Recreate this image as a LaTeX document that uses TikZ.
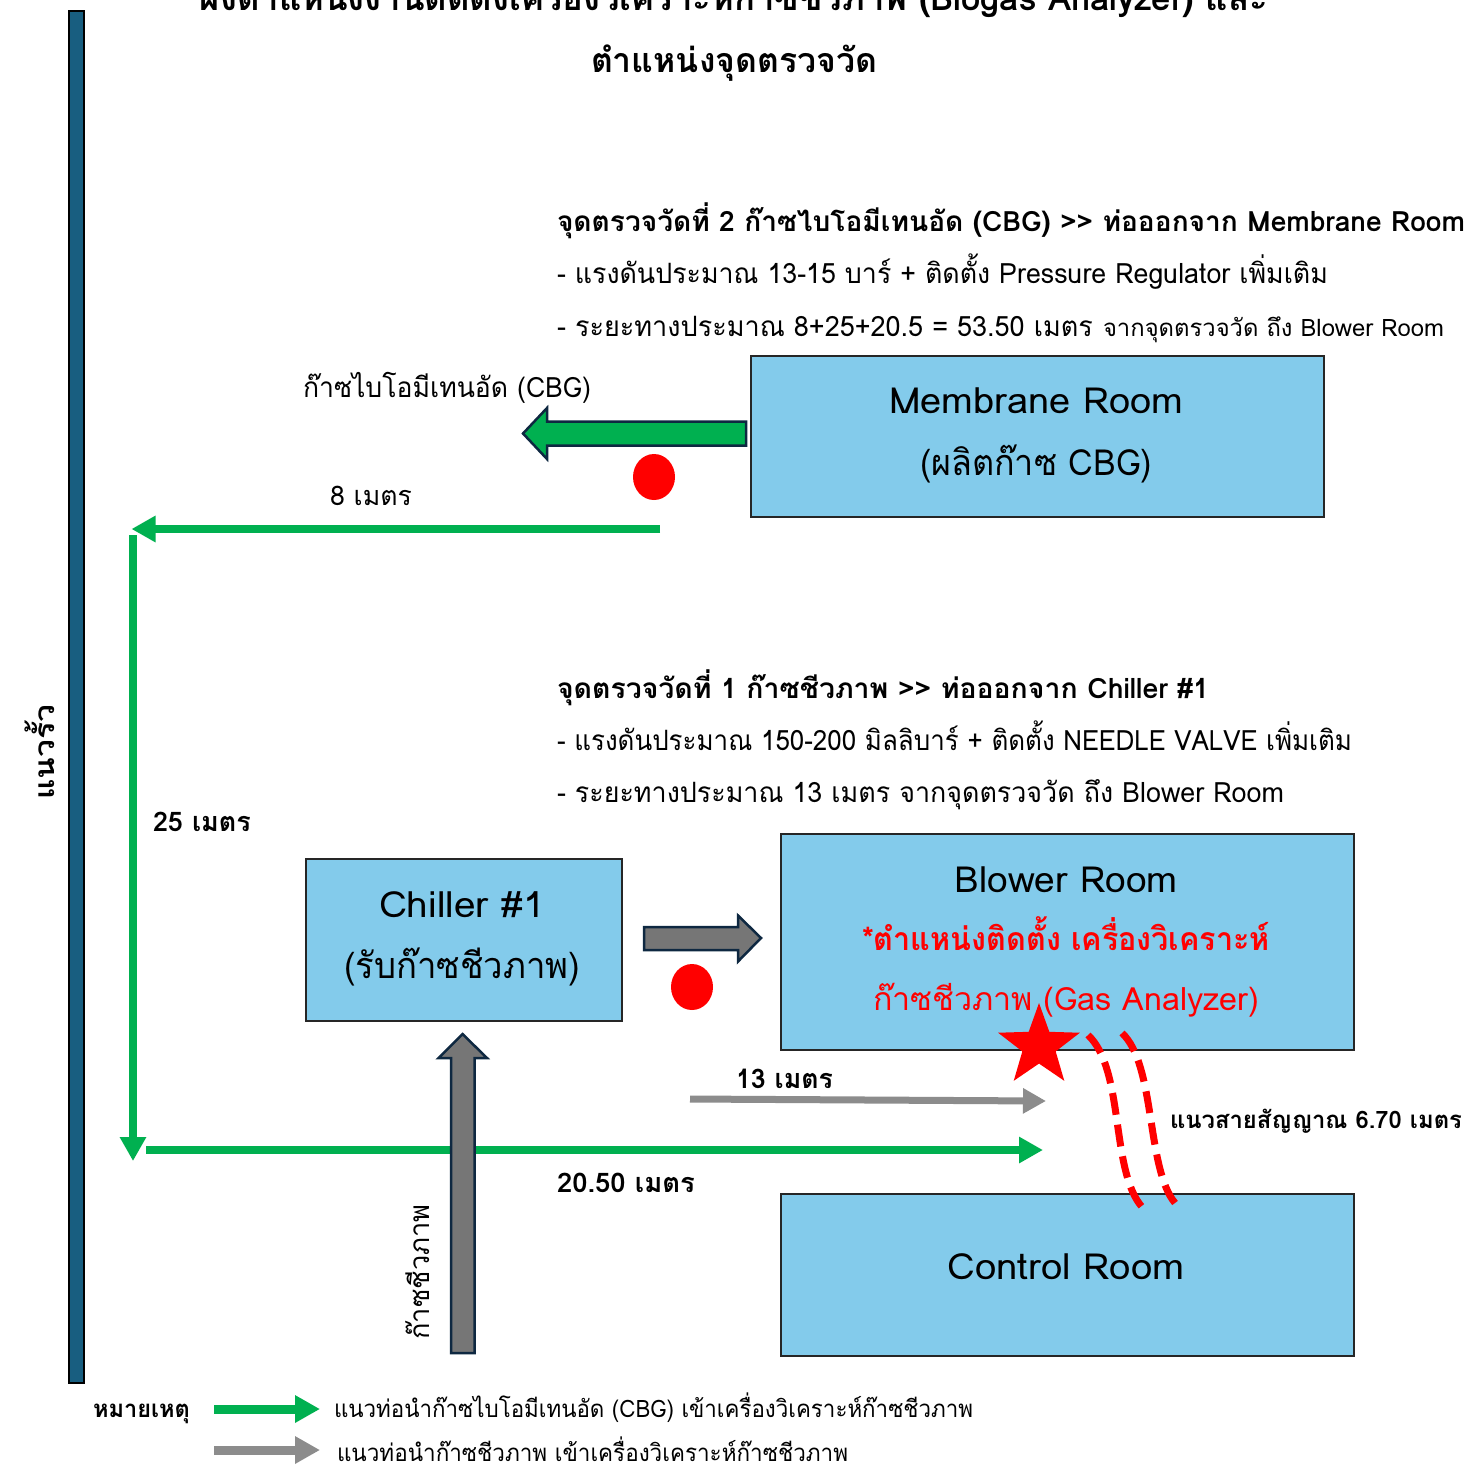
\documentclass[tikz,border=0pt]{standalone}
\usepackage{fontspec}
\setmainfont[Script=Thai]{Loma}
\usetikzlibrary{arrows.meta,shapes.geometric}
\definecolor{roomblue}{RGB}{131,203,235}
\definecolor{fence}{RGB}{24,94,128}
\definecolor{pgreen}{RGB}{0,176,80}
\definecolor{pgray}{RGB}{140,140,140}
\definecolor{bgray}{RGB}{118,118,118}
\definecolor{outl}{RGB}{14,40,65}
\definecolor{pred}{RGB}{255,0,0}
\newsavebox\wfbox
\newdimen\wfdim
\newcommand\wfit[2]{\sbox\wfbox{#2}\wfdim=\wd\wfbox\edef\wfratio{\fpeval{#1/\wfdim}}\scalebox{\wfratio}[1]{\usebox\wfbox}}
\newcommand\fsz[1]{\fontsize{#1}{#1}\selectfont}
\tikzset{
  room/.style={draw=black!85, line width=1.5pt, fill=roomblue, inner sep=0pt, anchor=north west},
  lbl/.style={inner sep=0pt, outer sep=0pt, anchor=base west},
  clbl/.style={inner sep=0pt, outer sep=0pt, anchor=base},
  gline/.style={draw=pgreen, line width=7.5pt, -{Triangle[length=24pt,width=25pt]}},
  grline/.style={draw=pgray, line width=7pt, -{Triangle[length=23pt,width=24pt]}},
  blockarrow/.style={draw=outl, line width=2.5pt, line join=miter},
  dot/.style={ellipse, fill=pred, inner sep=0pt, minimum width=42, minimum height=46},
  signal/.style={draw=pred, line width=7pt, dash pattern=on 22pt off 10pt},
}
\begin{document}
\begin{tikzpicture}[x=1pt,y=-1pt]
\useasboundingbox[fill=white] (0,0) rectangle (1482,1465);

% title
\node[clbl] (title1) at (734,10) {\wfit{1068}{\fsz{34}\bfseries ผังตำแหน่งงานติดตั้งเครื่องวิเคราะห์ก๊าซชีวภาพ (Biogas Analyzer) และ}};
\node[clbl] (title2) at (734,72) {\wfit{286}{\fsz{34}\bfseries ตำแหน่งจุดตรวจวัด}};

% fence
\node[draw=black, line width=1.5pt, fill=fence, inner sep=0pt, minimum width=15, minimum height=1372, anchor=north west] (fencebar) at (68,10) {};
\node[inner sep=0pt, rotate=90] (fencelbl) at (40,752) {\wfit{95}{\fsz{28}\bfseries แนวรั้ว}};

% point 2 text
\node[lbl] (h2) at (557,231) {\wfit{908}{\fsz{28}\bfseries จุดตรวจวัดที่ 2 ก๊าซไบโอมีเทนอัด (CBG) >{}> ท่อออกจาก Membrane Room}};
\node[lbl] (h2a) at (557,283) {\wfit{771}{\fsz{28}- แรงดันประมาณ 13-15 บาร์ + ติดตั้ง Pressure Regulator เพิ่มเติม}};
\node[lbl] (h2b) at (557,336) {\wfit{536}{\fsz{28}- ระยะทางประมาณ 8+25+20.5 = 53.50 เมตร}};
\node[lbl] (h2c) at (1103,336) {\wfit{341}{\fsz{24}จากจุดตรวจวัด ถึง Blower Room}};

% membrane room
\node[room, minimum width=573, minimum height=161] (mem) at (750,355) {};
\node[clbl] (memt1) at (1036,413) {\wfit{294}{\fsz{36}Membrane Room}};
\node[clbl] (memt2) at (1036,475) {\wfit{232}{\fsz{36}(ผลิตก๊าซ CBG)}};

\node[lbl] (cbglbl) at (303,397) {\wfit{288}{\fsz{28}ก๊าซไบโอมีเทนอัด (CBG)}};
\draw[blockarrow, fill=pgreen] (746,421.5) -- (547,421.5) -- (547,408) -- (523,433.5) -- (547,459) -- (547,445.5) -- (746,445.5) -- cycle;
\node[dot] (dot2) at (654,477) {};

\node[lbl] (m8) at (330,505) {\wfit{82}{\fsz{27}8 เมตร}};

% green pipe
\coordinate (g1) at (660,529);
\coordinate (g2) at (131.5,529);
\coordinate (g3) at (133,535);
\coordinate (g4) at (133,1161);
\coordinate (g5) at (146,1150);
\coordinate (g6) at (1043,1150);
\draw[gline] (g1) -- (g2);
\draw[gline] (g3) -- (g4);
\draw[gline] (g5) -- (g6);

\node[lbl] (m25) at (153,831) {\wfit{98}{\fsz{27}\bfseries 25 เมตร}};
\node[lbl] (m2050) at (557,1192) {\wfit{138}{\fsz{27}\bfseries 20.50 เมตร}};

% point 1 text
\node[lbl] (h1) at (557,698) {\wfit{652}{\fsz{28}\bfseries จุดตรวจวัดที่ 1 ก๊าซชีวภาพ >{}> ท่อออกจาก Chiller \#1}};
\node[lbl] (h1a) at (557,750) {\wfit{795}{\fsz{28}- แรงดันประมาณ 150-200 มิลลิบาร์ + ติดตั้ง NEEDLE VALVE เพิ่มเติม}};
\node[lbl] (h1b) at (557,802) {\wfit{727}{\fsz{28}- ระยะทางประมาณ 13 เมตร จากจุดตรวจวัด ถึง Blower Room}};

% chiller
\node[room, minimum width=316, minimum height=162] (chiller) at (305,858) {};
\node[clbl] (cht1) at (462,917) {\wfit{166}{\fsz{36}Chiller \#1}};
\node[clbl] (cht2) at (462,978) {\wfit{236}{\fsz{36}(รับก๊าซชีวภาพ)}};

\draw[blockarrow, fill=bgray] (644,927) -- (738,927) -- (738,915.5) -- (761,938) -- (738,961.5) -- (738,950) -- (644,950) -- cycle;
\node[dot] (dot1) at (692,987) {};

% blower room
\node[room, minimum width=573, minimum height=216] (blower) at (780,833) {};
\node[clbl] (blt1) at (1066,892) {\wfit{223}{\fsz{36}Blower Room}};
\node[clbl, text=pred] (blt2) at (1066,950) {\wfit{408}{\fsz{32}\bfseries *ตำแหน่งติดตั้ง เครื่องวิเคราะห์}};
\node[clbl, text=pred] (blt3) at (1066,1010) {\wfit{386}{\fsz{32}ก๊าซชีวภาพ (Gas Analyzer)}};

% control room
\node[room, minimum width=573, minimum height=162] (control) at (780,1193) {};
\node[clbl] (crt) at (1066,1279) {\wfit{237}{\fsz{36}Control Room}};

% raw biogas up arrow
\draw[blockarrow, fill=bgray] (451,1353) -- (451,1058) -- (438.5,1058) -- (462.5,1034) -- (487,1058) -- (474.5,1058) -- (474.5,1353) -- cycle;
\node[inner sep=0pt, rotate=90] (biolbl) at (418,1272) {\wfit{135}{\fsz{28}ก๊าซชีวภาพ}};

% gray pipe
\node[lbl] (m13) at (736,1088) {\wfit{97}{\fsz{27}\bfseries 13 เมตร}};
\coordinate (r1) at (690,1099);
\coordinate (r2) at (1046,1101);
\draw[grline] (r1) -- (r2);

% star
\node[star, star points=5, star point ratio=2.45, fill=pred, inner sep=0pt, minimum size=86] (analyzer) at (1039,1046) {};

% signal lines
\coordinate (s1a) at (1088,1035);
\coordinate (s1b) at (1142,1207);
\coordinate (s2a) at (1122,1033);
\coordinate (s2b) at (1175,1203);
\draw[signal] (s1a) .. controls (1125,1070) and (1110,1170) .. (s1b);
\draw[signal] (s2a) .. controls (1156,1065) and (1146,1168) .. (s2b);
\node[lbl] (sigl) at (1170,1128) {\wfit{292}{\fsz{24}\bfseries แนวสายสัญญาณ 6.70 เมตร}};

% legend
\node[lbl] (note) at (93,1417) {\wfit{97}{\fsz{24}\bfseries หมายเหตุ}};
\coordinate (l1a) at (214,1409);
\coordinate (l1b) at (320,1409);
\coordinate (l2a) at (214,1450);
\coordinate (l2b) at (320,1450);
\draw[draw=pgreen, line width=9pt, -{Triangle[length=25pt,width=26pt]}] (l1a) -- (l1b);
\draw[draw=pgray, line width=9pt, -{Triangle[length=25pt,width=26pt]}] (l2a) -- (l2b);
\node[lbl] (leg1) at (334,1417) {\wfit{639}{\fsz{24}แนวท่อนำก๊าซไบโอมีเทนอัด (CBG) เข้าเครื่องวิเคราะห์ก๊าซชีวภาพ}};
\node[lbl] (leg2) at (337,1461) {\wfit{511}{\fsz{24}แนวท่อนำก๊าซชีวภาพ เข้าเครื่องวิเคราะห์ก๊าซชีวภาพ}};
\end{tikzpicture}
\end{document}
